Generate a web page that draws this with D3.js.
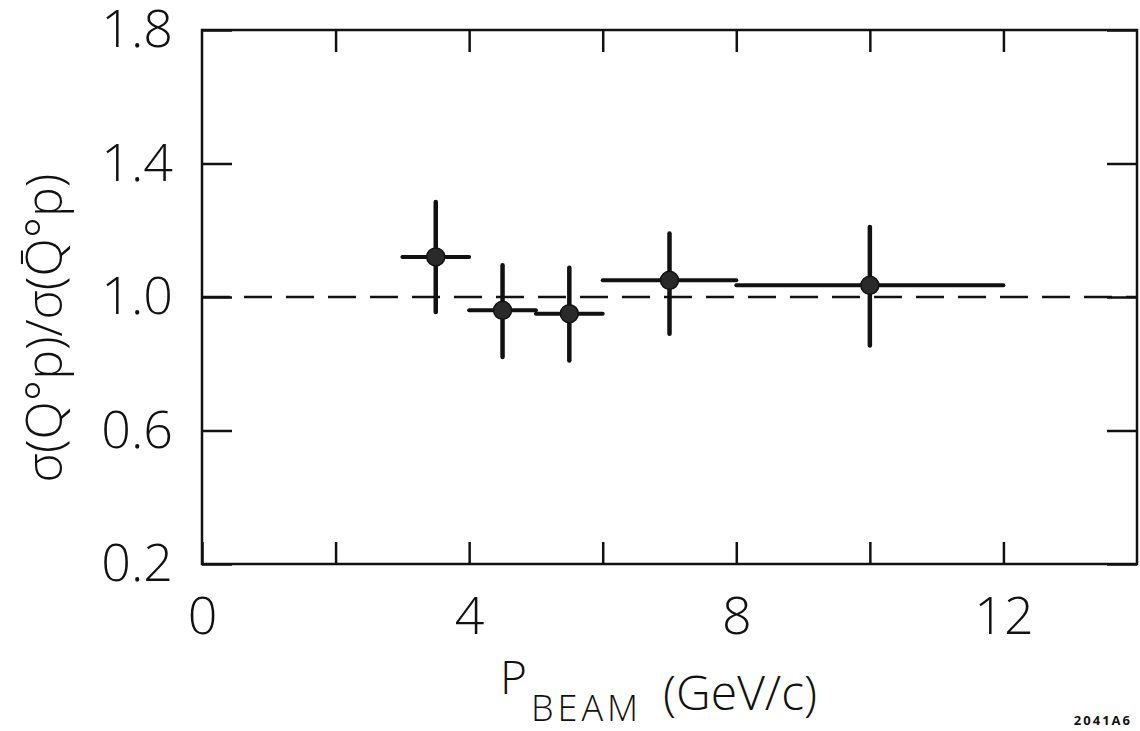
<!DOCTYPE html>
<html>
<head>
<meta charset="utf-8">
<script src="https://cdn.jsdelivr.net/npm/d3@7"></script>
<style>
  html, body { margin: 0; padding: 0; background: #fff; }
  svg { display: block; }
  text { font-family: "Open Sans", "Liberation Sans", sans-serif; font-weight: 300; fill: #111; }
</style>
</head>
<body>
<svg id="chart" width="1140" height="731"></svg>
<script>
// ---- data ----
const binCenters = [3.5, 4.5, 5.5, 7, 10];
const binLow     = [3, 4, 5, 6, 8];
const binHigh    = [4, 5, 6, 8, 12];
const ratio      = [1.12, 0.96, 0.95, 1.05, 1.035];
const errLow     = [0.955, 0.82, 0.81, 0.89, 0.855];
const errHigh    = [1.285, 1.095, 1.088, 1.19, 1.21];
const xTickValues = [0, 2, 4, 6, 8, 10, 12];
const xTickLabels = [0, 4, 8, 12];
const yTickValues = [0.2, 0.6, 1.0, 1.4, 1.8];
const referenceLevel = 1.0;

// ---- layout ----
const plotLeft = 202, plotRight = 1137, plotTop = 30, plotBottom = 564;
const svg = d3.select("#chart");

const x = d3.scaleLinear().domain([0, 14]).range([plotLeft, plotRight]);
const y = d3.scaleLinear().domain([0.2, 1.8]).range([plotBottom, plotTop]);

const fmtY = d => d3.format(".1f")(d);
const fmtX = d => xTickLabels.includes(d) ? String(d) : "";

const gB = svg.append("g").attr("transform", `translate(0,${plotBottom})`)
  .call(d3.axisBottom(x).tickValues(xTickValues).tickSizeInner(-22).tickSizeOuter(0)
        .tickPadding(33).tickFormat(fmtX));
const gT = svg.append("g").attr("transform", `translate(0,${plotTop})`)
  .call(d3.axisTop(x).tickValues(xTickValues.filter(v => v > 0)).tickSizeInner(-22).tickSizeOuter(0).tickFormat(""));
const gL = svg.append("g").attr("transform", `translate(${plotLeft},0)`)
  .call(d3.axisLeft(y).tickValues(yTickValues).tickSizeInner(-30).tickSizeOuter(0)
        .tickPadding(29).tickFormat(fmtY));
const gR = svg.append("g").attr("transform", `translate(${plotRight},0)`)
  .call(d3.axisRight(y).tickValues(yTickValues).tickSizeInner(-30).tickSizeOuter(0).tickFormat(""));

[gB, gT, gL, gR].forEach(g => {
  g.select(".domain").remove();
  g.selectAll(".tick line").attr("stroke", "#111").attr("stroke-width", 2.5);
  g.selectAll(".tick text").attr("font-size", 52).attr("fill", "#111")
    .style("font-family", '"Open Sans", "Liberation Sans", sans-serif').style("font-weight", 300);
});

// frame
svg.append("rect")
  .attr("x", x(0)).attr("y", y(1.8))
  .attr("width", x(14) - x(0)).attr("height", y(0.2) - y(1.8))
  .attr("fill", "none").attr("stroke", "#111").attr("stroke-width", 2.5);

// dashed reference line
svg.append("line")
  .attr("x1", x(0)).attr("x2", x(14))
  .attr("y1", y(referenceLevel)).attr("y2", y(referenceLevel))
  .attr("stroke", "#111").attr("stroke-width", 2.5)
  .attr("stroke-dasharray", "28,14");

const pts = binCenters.map((c, i) => ({c, lo: binLow[i], hi: binHigh[i], v: ratio[i], el: errLow[i], eh: errHigh[i]}));

svg.append("g").selectAll("line").data(pts).join("line")
  .attr("x1", d => x(d.lo)).attr("x2", d => x(d.hi))
  .attr("y1", d => y(d.v)).attr("y2", d => y(d.v))
  .attr("stroke", "#111").attr("stroke-width", 4).attr("stroke-linecap", "round");

svg.append("g").selectAll("line").data(pts).join("line")
  .attr("x1", d => x(d.c)).attr("x2", d => x(d.c))
  .attr("y1", d => y(d.el)).attr("y2", d => y(d.eh))
  .attr("stroke", "#111").attr("stroke-width", 4.5).attr("stroke-linecap", "round");

svg.append("g").selectAll("circle").data(pts).join("circle")
  .attr("cx", d => x(d.c)).attr("cy", d => y(d.v)).attr("r", 9)
  .attr("fill", "#2a2a2a").attr("stroke", "#111").attr("stroke-width", 1.5);

// x-axis title
const xt = svg.append("text");
xt.append("tspan").attr("x", 500).attr("y", 694).attr("font-size", 46).text("P");
xt.append("tspan").attr("x", 531).attr("y", 721).attr("font-size", 36).attr("letter-spacing", 4).text("BEAM");
xt.append("tspan").attr("x", 663).attr("y", 710).attr("font-size", 48).text("(GeV/c)");

// y-axis title
svg.append("text")
  .attr("transform", "translate(62,328) rotate(-90)")
  .attr("text-anchor", "middle").attr("font-size", 50)
  .text("σ(Q°p)/σ(Q\u0304°p)");

svg.append("text").attr("x", 1132).attr("y", 725).attr("text-anchor", "end")
  .attr("font-size", 13).style("font-weight", 700).attr("letter-spacing", 2)
  .text("2041A6");
</script>
</body>
</html>
